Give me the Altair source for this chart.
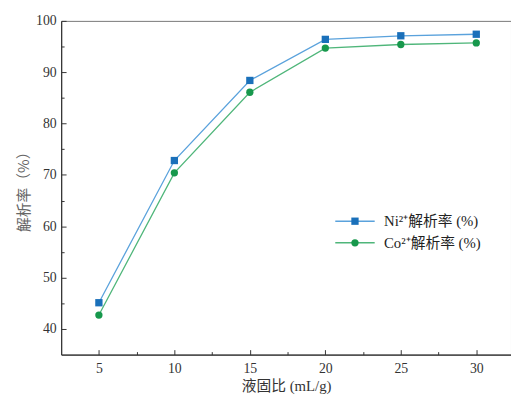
import altair as alt
import pandas as pd

ratio = [5, 10, 15, 20, 25, 30]
ni_rate = [45.1, 72.8, 88.4, 96.4, 97.1, 97.4]
co_rate = [42.7, 70.4, 86.1, 94.7, 95.4, 95.7]
series_names = ["Ni²⁺解析率 (%)", "Co²⁺解析率 (%)"]
series_codes = ["Ni", "Co"]
x_major = [5, 10, 15, 20, 25, 30]
x_minor = [7.5, 12.5, 17.5, 22.5, 27.5]
y_major = [40, 50, 60, 70, 80, 90, 100]
y_minor = [45, 55, 65, 75, 85, 95]

rows = []
for r, a, b in zip(ratio, ni_rate, co_rate):
    rows.append({"ratio": r, "value": a, "series": series_codes[0], "line": series_names[0]})
    rows.append({"ratio": r, "value": b, "series": series_codes[1], "line": series_names[1]})
df = pd.DataFrame(rows)

serif = "Liberation Serif, Noto Sans CJK SC, serif"
cjk = "Noto Sans CJK SC, sans-serif"
axis_col = "#333333"

xs = alt.Scale(domain=[2.5, 32.3], nice=False, zero=False)
ys = alt.Scale(domain=[35, 100], nice=False, zero=False)

line_colors = ["#5aa2dc", "#4fb67a"]
mark_colors = ["#1a70ba", "#17984c"]

leg_x = 291
leg_y = 196
sym_size = 55

lines = alt.Chart(df).mark_line(strokeWidth=1.3).encode(
    x=alt.X("ratio:Q", scale=xs, axis=alt.Axis(
        orient="bottom", values=x_minor, tickSize={"expr": "-3"}, labels=False,
        domain=False, grid=False, title="", tickColor=axis_col, tickWidth=1)),
    y=alt.Y("value:Q", scale=ys, axis=alt.Axis(
        orient="left", values=y_minor, tickSize={"expr": "-3"}, labels=False,
        domain=False, grid=False, title="", tickColor=axis_col, tickWidth=1)),
    stroke=alt.Stroke("line:N", sort=series_names,
                      scale=alt.Scale(domain=series_names, range=line_colors),
                      legend=alt.Legend(orient="none", legendX=leg_x, legendY=leg_y,
                                        title="", symbolType="M-5.4,0H5.4",
                                        symbolSize=sym_size, symbolStrokeWidth=1.5,
                                        labelFont=serif, labelFontSize=15,
                                        labelColor="#222222", labelOffset=22,
                                        rowPadding=6)),
)

points = alt.Chart(df).mark_point(filled=True, size=sym_size, opacity=1).encode(
    x=alt.X("ratio:Q", scale=xs, axis=alt.Axis(
        orient="bottom", values=x_major, tickSize={"expr": "-5"}, labelPadding=12,
        grid=False, domainColor=axis_col, tickColor=axis_col, domainWidth=1.2,
        labelFont=serif, labelFontSize=14, labelColor=axis_col,
        title="液固比 (mL/g)", titleFont=serif, titleFontSize=15,
        titleFontWeight="normal", titleColor="#333333", titlePadding=4)),
    y=alt.Y("value:Q", scale=ys, axis=alt.Axis(
        orient="left", values=y_major, tickSize={"expr": "-5"}, labelPadding=10,
        grid=False, domainColor=axis_col, tickColor=axis_col, domainWidth=1.2,
        labelFont=serif, labelFontSize=14, labelColor=axis_col,
        title="解析率（%）", titleFont=cjk, titleFontSize=15,
        titleFontWeight="normal", titleColor="#666666", titlePadding=4)),
    fill=alt.Fill("series:N", sort=series_codes,
                  scale=alt.Scale(domain=series_codes, range=mark_colors),
                  legend=alt.Legend(orient="none", legendX=leg_x, legendY=leg_y,
                                    title="", symbolSize=sym_size,
                                    labelFont=serif, labelFontSize=15, labelExpr="''",
                                    labelOffset=22, rowPadding=6)),
    shape=alt.Shape("series:N", sort=series_codes,
                    scale=alt.Scale(domain=series_codes, range=["square", "circle"]),
                    legend=alt.Legend(orient="none", legendX=leg_x, legendY=leg_y,
                                      title="", symbolSize=sym_size,
                                      labelFont=serif, labelFontSize=15, labelExpr="''",
                                      labelOffset=22, rowPadding=6)),
)

chart = alt.layer(lines, points).resolve_axis(x="independent", y="independent").properties(
    width=457, height=339,
    padding={"left": 9, "top": 3, "right": 0, "bottom": 0},
).configure_view(stroke="#777777", strokeWidth=1)

chart.save("out.html", embed_options={"renderer": "svg", "actions": False})
